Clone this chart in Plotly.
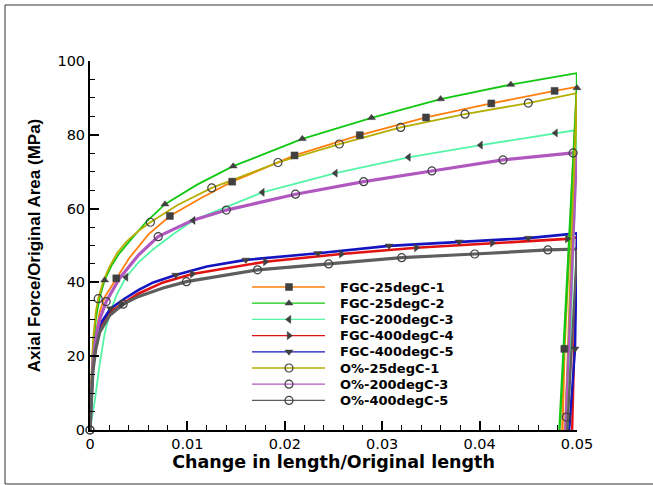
import plotly.graph_objects as go

# ---------------- data ----------------
names = ["FGC-25degC-1", "FGC-25degC-2", "FGC-200degC-3", "FGC-400degC-4",
         "FGC-400degC-5", "O%-25degC-1", "O%-200degC-3", "O%-400degC-5"]

fgc25_1_x = [0, 0.0002, 0.0005, 0.001, 0.0015, 0.0027, 0.004, 0.006, 0.0082, 0.0115, 0.0146,
             0.021, 0.0277, 0.0345, 0.0412, 0.0477, 0.05, 0.0487, 0.0485]
fgc25_1_y = [0, 12, 25, 32, 36, 41.1, 46.5, 53, 58, 63, 67.3,
             74.4, 79.9, 84.7, 88.5, 91.9, 93.0, 22, 0]
fgc25_1_m = [5, 8, 10, 11, 12, 13, 14, 15, 17]

fgc25_2_x = [0, 0.0001, 0.0003, 0.0006, 0.001, 0.0015, 0.0022, 0.003, 0.004, 0.0058, 0.0077, 0.011,
             0.0147, 0.0218, 0.0289, 0.036, 0.0432, 0.05, 0.05, 0.0482]
fgc25_2_y = [0, 10, 22, 30, 36, 40.6, 44.5, 47.8, 51, 56.5, 61.2, 66.5,
             71.5, 78.9, 84.6, 89.7, 93.6, 96.7, 92.7, 0]
fgc25_2_m = [5, 10, 12, 13, 14, 15, 16, 18]

fgc200_3_x = [0, 0.0005, 0.001, 0.0015, 0.002, 0.0028, 0.0037, 0.005, 0.0065, 0.0085, 0.0106,
              0.0177, 0.0252, 0.0327, 0.0401, 0.0478, 0.05, 0.049]
fgc200_3_y = [0, 8, 18, 26, 31.5, 37, 41.4, 45.5, 49, 53, 56.8,
              64.4, 69.6, 73.9, 77.2, 80.5, 81.3, 0]
fgc200_3_m = [6, 10, 11, 12, 13, 14, 15]

fgc400_4_x = [0, 0.0001, 0.0003, 0.0006, 0.001, 0.002, 0.0033, 0.005, 0.0075, 0.0105,
              0.018, 0.0258, 0.0335, 0.0413, 0.049, 0.05, 0.0495]
fgc400_4_y = [0, 8, 17, 23, 27.5, 31.8, 34.1, 37, 40, 42.3,
              45.6, 47.7, 49.4, 50.7, 51.8, 52.2, 0]
fgc400_4_m = [6, 9, 10, 11, 12, 13, 14]

fgc400_5_x = [0, 0.0001, 0.0003, 0.0006, 0.001, 0.0021, 0.0035, 0.005, 0.0065, 0.0088, 0.012,
              0.016, 0.0234, 0.0307, 0.0379, 0.045, 0.05, 0.0498, 0.0492]
fgc400_5_y = [0, 8, 18, 24, 28.5, 32.9, 35.5, 38, 40, 42.0, 44.3,
              46.1, 47.9, 49.9, 51.0, 52.0, 53.3, 22, 0]
fgc400_5_m = [5, 9, 11, 12, 13, 14, 15, 17]

o25_1_x = [0, 0.0001, 0.0003, 0.0006, 0.00084, 0.0014, 0.002, 0.0028, 0.0038, 0.005, 0.0062, 0.009, 0.0125,
           0.0193, 0.0256, 0.0319, 0.0385, 0.045, 0.05, 0.0488]
o25_1_y = [0, 12, 24, 32, 35.6, 40.6, 44.2, 48, 51.2, 54, 56.3, 61, 65.6,
           72.5, 77.5, 82.0, 85.6, 88.6, 91.3, 0]
o25_1_m = [4, 10, 12, 13, 14, 15, 16, 17]

o200_3_x = [0, 0.0001, 0.0003, 0.0006, 0.001, 0.00166, 0.003, 0.005, 0.007, 0.0105, 0.014,
            0.0211, 0.0281, 0.0351, 0.0424, 0.0496, 0.05, 0.0489, 0.0488]
o200_3_y = [0, 8, 18, 25, 30, 34.8, 41, 47.5, 52.4, 56.8, 59.6,
            63.9, 67.3, 70.2, 73.2, 75.1, 75.5, 3.5, 0]
o200_3_m = [0, 5, 8, 10, 11, 12, 13, 14, 15, 17]

o400_5_x = [0, 0.0001, 0.0003, 0.0006, 0.001, 0.002, 0.0034, 0.005, 0.0075, 0.0099,
            0.0172, 0.0245, 0.032, 0.0395, 0.047, 0.05, 0.049]
o400_5_y = [0, 7, 16, 22, 26.5, 31, 34.1, 36.2, 38.5, 40.2,
            43.4, 45.0, 46.7, 47.7, 48.8, 49.0, 0]
o400_5_m = [0, 6, 9, 10, 11, 12, 13, 14]

x_ticks = [0, 0.01, 0.02, 0.03, 0.04, 0.05]
x_ticklabels = ["0", "0.01", "0.02", "0.03", "0.04", "0.05"]
y_ticks = [0, 20, 40, 60, 80, 100]
y_ticklabels = ["0", "20", "40", "60", "80", "100"]

# ---------------- styles ----------------
series = [
    (fgc25_1_x, fgc25_1_y, fgc25_1_m, "#FF7F0E", 1.8, "square"),
    (fgc25_2_x, fgc25_2_y, fgc25_2_m, "#12C812", 1.8, "triangle-up"),
    (fgc200_3_x, fgc200_3_y, fgc200_3_m, "#55F5A8", 1.8, "triangle-left"),
    (fgc400_4_x, fgc400_4_y, fgc400_4_m, "#E01212", 2.6, "triangle-right"),
    (fgc400_5_x, fgc400_5_y, fgc400_5_m, "#1414C0", 2.6, "triangle-down"),
    (o25_1_x, o25_1_y, o25_1_m, "#B4AE00", 1.8, "circle-open"),
    (o200_3_x, o200_3_y, o200_3_m, "#B058C0", 3.2, "circle-open"),
    (o400_5_x, o400_5_y, o400_5_m, "#5E5E5E", 3.2, "circle-open"),
]

MK = "#404040"
FONT = "Liberation Sans, Arial, sans-serif"
WIDE = "DejaVu Sans, Verdana, sans-serif"


def marker_style(sym):
    op = sym.endswith("open")
    return dict(symbol=sym, size=8 if op else 7, color=MK,
                line=dict(color=MK, width=1.2 if op else 0.5))


fig = go.Figure()

# loading branch and (noisy, drawn thicker) unloading branch of every test
for name, (xs, ys, mi, col, lw, sym) in zip(names, series):
    k = ys.index(max(ys))
    fig.add_trace(go.Scatter(x=xs[:k + 1], y=ys[:k + 1], mode="lines",
                             line=dict(color=col, width=lw), name=name,
                             showlegend=False, cliponaxis=False, hoverinfo="skip"))
for name, (xs, ys, mi, col, lw, sym) in zip(names, series):
    k = ys.index(max(ys))
    fig.add_trace(go.Scatter(x=xs[k:], y=ys[k:], mode="lines",
                             line=dict(color=col, width=2.4), name=name,
                             showlegend=False, cliponaxis=False, hoverinfo="skip"))
for name, (xs, ys, mi, col, lw, sym) in zip(names, series):
    fig.add_trace(go.Scatter(
        x=[xs[i] for i in mi], y=[ys[i] for i in mi], mode="markers",
        marker=marker_style(sym), name=name, showlegend=False, cliponaxis=False))

# ---------------- legend (Tecplot-style, drawn on an overlay axis) ----------------
LEG_LINE_X0, LEG_LINE_X1, LEG_MARK_X, LEG_TEXT_X = 0.3326, 0.4825, 0.4086, 0.5093
LEG_TOP, LEG_STEP = 0.3875, 0.0439
annotations = []
for k, (name, (xs, ys, mi, col, lw, sym)) in enumerate(zip(names, series)):
    yk = LEG_TOP - k * LEG_STEP
    fig.add_trace(go.Scatter(x=[LEG_LINE_X0, LEG_LINE_X1], y=[yk, yk], mode="lines",
                             line=dict(color=col, width=1.3), xaxis="x2", yaxis="y2",
                             showlegend=False, hoverinfo="skip"))
    fig.add_trace(go.Scatter(x=[LEG_MARK_X], y=[yk], mode="markers", marker=marker_style(sym),
                             xaxis="x2", yaxis="y2", showlegend=False, hoverinfo="skip"))
    annotations.append(dict(x=LEG_TEXT_X, y=yk, xref="paper", yref="paper", text="<b>%s</b>" % name,
                            showarrow=False, xanchor="left", yanchor="middle",
                            font=dict(family=WIDE, size=13, color="black")))

axis_common = dict(
    showline=True, linecolor="black", linewidth=2, mirror=False,
    ticks="inside", ticklen=9, tickwidth=1.5, tickcolor="black",
    showgrid=False, zeroline=False,
    tickfont=dict(family=WIDE, size=14.5, color="black"),
)

fig.update_layout(
    xaxis=dict(range=[0, 0.05], tickvals=x_ticks, ticktext=x_ticklabels,
               minor=dict(dtick=0.002, ticks="inside", ticklen=5, tickwidth=1.2,
                          tickcolor="black", showgrid=False),
               title=dict(text="<b>Change in length/Original length</b>", standoff=0,
                          font=dict(family=WIDE, size=17.5, color="black")),
               **axis_common),
    yaxis=dict(range=[0, 100], tickvals=y_ticks, ticktext=y_ticklabels,
               minor=dict(dtick=5, ticks="inside", ticklen=5, tickwidth=1.2,
                          tickcolor="black", showgrid=False),
               title=dict(text="<b>Axial Force/Original Area (MPa)</b>", standoff=12,
                          font=dict(family=FONT, size=17, color="black")),
               **axis_common),
    xaxis2=dict(overlaying="x", range=[0, 1], visible=False, fixedrange=True),
    yaxis2=dict(overlaying="y", range=[0, 1], visible=False, fixedrange=True),
    width=653, height=485,
    margin=dict(l=90, r=76, t=61, b=55),
    paper_bgcolor="white", plot_bgcolor="white",
    showlegend=False,
    annotations=annotations,
    shapes=[dict(type="rect", xref="paper", yref="paper",
                 x0=-0.1745, x1=1.25, y0=-0.1463, y1=1.1518,
                 line=dict(color="#333333", width=1), fillcolor="rgba(0,0,0,0)", layer="below")],
)

fig.write_html("out.html", config={"displayModeBar": False},
               post_script="document.body.style.margin='0';")
